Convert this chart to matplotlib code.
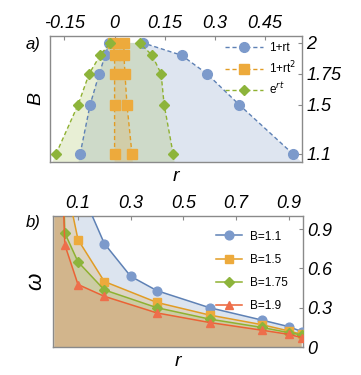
import numpy as np
import matplotlib
matplotlib.use("Agg")
import matplotlib.pyplot as plt

plt.rcParams['font.family'] = ['Liberation Sans', 'DejaVu Sans']

# ---- panel a data: r boundaries at each B ----
B_levels = [1.1, 1.5, 1.75, 1.9, 2.0]
lin_left = [-0.103, -0.073, -0.046, -0.028, -0.016]
lin_right = [0.533, 0.372, 0.276, 0.200, 0.085]
quad_left = [0.0, 0.0, 0.0, 0.0, -0.004]
quad_right = [0.052, 0.037, 0.031, 0.028, 0.028]
exp_left = [-0.175, -0.109, -0.076, -0.043, -0.013]
exp_right = [0.175, 0.148, 0.139, 0.112, 0.075]
labels_a = ["1+rt", "1+rt$^2$", "e$^{rt}$"]

# ---- panel b data: omega vs r for fixed B ----
r_b11 = [0.01, 0.05, 0.1, 0.2, 0.3, 0.4, 0.6, 0.8, 0.9, 0.95]
w_b11 = [10.0, 2.5, 1.25, 0.79, 0.54, 0.43, 0.30, 0.205, 0.156, 0.118]
r_b15 = [0.01, 0.05, 0.1, 0.2, 0.4, 0.6, 0.8, 0.9, 0.95]
w_b15 = [6.0, 1.3, 0.82, 0.50, 0.34, 0.244, 0.17, 0.123, 0.097]
r_b175 = [0.01, 0.05, 0.1, 0.2, 0.4, 0.6, 0.8, 0.9, 0.95]
w_b175 = [3.5, 0.87, 0.65, 0.436, 0.30, 0.213, 0.149, 0.11, 0.092]
r_b19 = [0.01, 0.05, 0.1, 0.2, 0.4, 0.6, 0.8, 0.9, 0.95]
w_b19 = [3.0, 0.78, 0.477, 0.387, 0.26, 0.187, 0.128, 0.097, 0.072]
labels_b = ["B=1.1", "B=1.5", "B=1.75", "B=1.9"]

blue = '#5E81B5'
orange = '#E19C24'
green = '#8FB131'
red = '#EB6235'
mblue = '#7C9ACB'
morange = '#EDAA3C'
mgreen = '#8DB43B'
mred = '#EE6E4B'
spine_c = '#8a8a8a'

fig = plt.figure(figsize=(3.61, 3.75), dpi=100)
ax1 = fig.add_axes([50/361, 1-162/375, 252/361, 126/375])
ax2 = fig.add_axes([53/361, 1-347/375, 250/361, 131/375])


def style_axes(ax):
    for s in ax.spines.values():
        s.set_color(spine_c)
        s.set_linewidth(1.0)
    ax.xaxis.tick_top()
    ax.yaxis.tick_right()
    ax.tick_params(direction='in', length=3, width=0.8, color=spine_c,
                   pad=3)
    for lab in ax.get_xticklabels() + ax.get_yticklabels():
        lab.set_fontstyle('italic')
        lab.set_fontsize(13)


# ---- panel a ----
ylo = 1.035
ax1.set_xlim(-0.193, 0.56)
ax1.set_ylim(ylo, 2.056)


def band(ax, left, right, col):
    # extend the two boundaries linearly down to the bottom of the axes
    kl = (left[0] - left[1]) / (B_levels[0] - B_levels[1])
    kr = (right[0] - right[1]) / (B_levels[0] - B_levels[1])
    lb = left[0] + kl * (ylo - B_levels[0])
    rb = right[0] + kr * (ylo - B_levels[0])
    xs = [lb] + list(left) + list(right)[::-1] + [rb]
    ys = [ylo] + list(B_levels) + list(B_levels)[::-1] + [ylo]
    ax.fill(xs, ys, color=col, alpha=0.2, lw=0)


band(ax1, lin_left, lin_right, blue)
band(ax1, exp_left, exp_right, green)
band(ax1, quad_left, quad_right, orange)

series_a = [(lin_left, lin_right, blue, mblue, 'o', 7.0),
            (quad_left, quad_right, orange, morange, 's', 6.5),
            (exp_left, exp_right, green, mgreen, 'D', 4.8)]
handles_a = []
for (lft, rgt, c, mc, m, ms), lab in zip(series_a, labels_a):
    for side in (lft, rgt):
        h, = ax1.plot(side, B_levels, ls='--', lw=1.0, color=c, marker=m,
                      ms=ms, mfc=mc, mec=mc, dashes=(3, 2), clip_on=False,
                      zorder=3)
    handles_a.append(h)

ax1.set_xticks([-0.15, 0, 0.15, 0.3, 0.45])
ax1.set_xticklabels(["-0.15", "0", "0.15", "0.3", "0.45"])
ax1.set_yticks([1.1, 1.5, 1.75, 2.0])
ax1.set_yticklabels(["1.1", "1.5", "1.75", "2"])
style_axes(ax1)
ax1.set_ylabel("B", fontsize=14, style='italic', labelpad=4)
ax1.set_xlabel("r", fontsize=14, style='italic', labelpad=4)
ax1.xaxis.set_label_position('bottom')
ax1.yaxis.set_label_position('left')
ax1.legend(handles_a, labels_a, loc='upper right', frameon=False,
           fontsize=8.5, handlelength=3.2, numpoints=1,
           borderaxespad=0.1, labelspacing=0.45, handletextpad=0.5)
fig.text(26/361, 1-44/375, "a)", fontsize=12, style='italic',
         va='center', ha='left')

# ---- panel b ----
ax2.set_xlim(0.005, 0.955)
ax2.set_ylim(0, 1.0)
series_b = [(r_b11, w_b11, blue, mblue, 'o', 6.3),
            (r_b15, w_b15, orange, morange, 's', 6.3),
            (r_b175, w_b175, green, mgreen, 'D', 4.6),
            (r_b19, w_b19, red, mred, '^', 6.3)]
handles_b = []
for r, w, c, mc, m, ms in series_b:
    ax2.fill_between(r, 0, w, color=c, alpha=0.21, lw=0)
for r, w, c, mc, m, ms in series_b:
    h, = ax2.plot(r, w, ls='-', lw=1.1, color=c, marker=m, ms=ms,
                  mfc=mc, mec=mc, zorder=3)
    handles_b.append(h)

ax2.set_xticks([0.1, 0.3, 0.5, 0.7, 0.9])
ax2.set_xticklabels(["0.1", "0.3", "0.5", "0.7", "0.9"])
ax2.set_yticks([0, 0.3, 0.6, 0.9])
ax2.set_yticklabels(["0", "0.3", "0.6", "0.9"])
style_axes(ax2)
ax2.set_ylabel("ω", fontsize=16, style='italic', labelpad=5)
ax2.set_xlabel("r", fontsize=14, style='italic', labelpad=4)
ax2.xaxis.set_label_position('bottom')
ax2.yaxis.set_label_position('left')
ax2.legend(handles_b, labels_b, loc='upper right', frameon=False,
           fontsize=8.5, handlelength=2.2, numpoints=1,
           bbox_to_anchor=(0.98, 0.97), labelspacing=0.95, handletextpad=0.6)
fig.text(26/361, 1-222/375, "b)", fontsize=12, style='italic',
         va='center', ha='left')

fig.savefig("out.png", dpi=100)
